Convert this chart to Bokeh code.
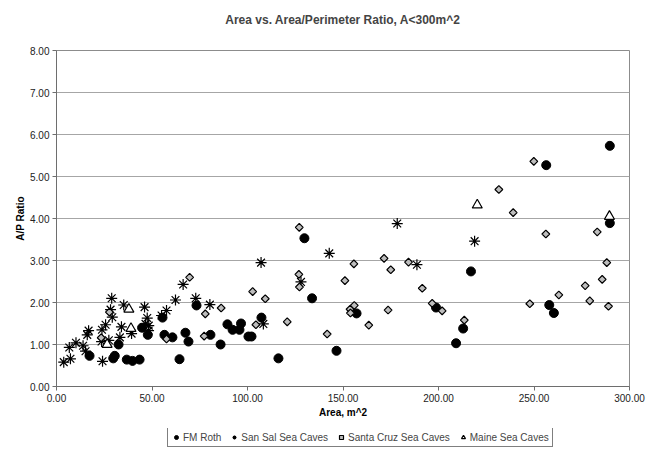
import math
from bokeh.plotting import figure
from bokeh.layouts import column
from bokeh.models import (Range1d, NumeralTickFormatter, FixedTicker,
                          Legend, LegendItem, Title)
from bokeh.embed import file_html
from bokeh.resources import INLINE

# ---- data ----
fm_area = [17.3, 32.5, 30.5, 29.7, 36.8, 39.8, 43.5, 44.8, 47.8, 55.5, 56.5, 60.7,
           67.5, 69.1, 64.4, 73.3, 89.5, 92.2, 95.8, 96.6, 80.6, 85.9, 100.5, 102.1,
           107.3, 116.2, 133.8, 129.8, 146.6, 157.1, 198.7, 217.0, 212.9, 209.2,
           289.7, 256.4, 289.7, 258.0, 260.4]
fm_ratio = [0.73, 1.00, 0.73, 0.67, 0.64, 0.61, 0.64, 1.40, 1.23, 1.64, 1.23, 1.17,
            1.28, 1.07, 0.65, 1.93, 1.48, 1.35, 1.35, 1.50, 1.23, 1.00, 1.19, 1.19,
            1.64, 0.67, 2.10, 3.53, 0.85, 1.74, 1.88, 2.74, 1.38, 1.03,
            5.73, 5.27, 3.89, 1.94, 1.75]

sansal_area = [3.8, 7.3, 6.7, 10.2, 13.9, 15.2, 16.8, 16.1, 24.1, 23.6, 25.7, 28.3,
               28.9, 29.2, 27.4, 33.2, 34.0, 35.2, 39.3, 46.1, 47.5, 48.3, 46.6, 48.2,
               55.0, 57.6, 62.3, 66.3, 72.9, 80.3, 107.1, 108.3, 128.0, 142.8, 178.4,
               188.7, 218.9, 23.8]
sansal_ratio = [0.58, 0.66, 0.93, 1.04, 0.97, 0.84, 1.33, 1.23, 0.60, 1.07, 1.47, 1.83,
                2.10, 1.65, 1.10, 1.17, 1.42, 1.94, 1.26, 1.89, 1.63, 1.45, 1.49, 1.33,
                1.69, 1.81, 2.06, 2.43, 2.10, 1.95, 2.95, 1.49, 2.49, 3.17, 3.88,
                2.90, 3.46, 1.35]

cruz_area = [27.7, 23.4, 57.6, 69.7, 77.9, 86.2, 77.3, 102.7, 109.3, 104.4, 120.8,
             127.1, 126.9, 127.2, 141.7, 151.0, 155.7, 171.5, 184.3, 175.0, 191.5,
             155.9, 153.7, 153.9, 173.6, 163.5, 196.7, 201.9, 213.5, 249.9, 231.6,
             239.1, 256.2, 283.1, 288.1, 285.7, 276.8, 263.0, 247.8, 279.2, 289.0]
cruz_ratio = [1.77, 1.16, 1.13, 2.60, 1.73, 1.87, 1.20, 2.26, 2.09, 1.47, 1.54,
              3.79, 2.67, 2.37, 1.25, 2.52, 2.92, 3.05, 2.96, 2.78, 2.34,
              1.93, 1.84, 1.75, 1.82, 1.46, 1.98, 1.80, 1.58, 5.36, 4.69,
              4.14, 3.63, 3.68, 2.95, 2.55, 2.40, 2.18, 1.97, 2.04, 1.91]

maine_area = [37.9, 39.0, 26.5, 220.3, 289.5]
maine_ratio = [1.84, 1.38, 1.00, 4.32, 4.05]

x_ticks = [0, 50, 100, 150, 200, 250, 300]
y_ticks = [0, 1, 2, 3, 4, 5, 6, 7, 8]

title_text = "Area vs. Area/Perimeter Ratio, A<300m^2"
x_label = "Area, m^2"
y_label = "A/P Ratio"
series_names = ["FM Roth", "San Sal Sea Caves", "Santa Cruz Sea Caves", "Maine Sea Caves"]

FONT = "Liberation Sans"

p = figure(frame_width=573, frame_height=336, output_backend="svg",
           toolbar_location=None, title=None,
           x_range=Range1d(0, 300), y_range=Range1d(0, 8),
           min_border_left=56, min_border_right=27, min_border_top=50,
           min_border_bottom=42)

# spacer title nearest the frame, then the real title above it
p.add_layout(Title(text=" ", text_font=FONT, text_font_size="12px", standoff=0), "above")
p.add_layout(Title(text=title_text, align="center", text_font=FONT,
                   text_font_size="12px", text_font_style="bold", standoff=16), "above")

p.background_fill_color = "white"
p.border_fill_color = "white"
p.outline_line_color = "#8c8c8c"
p.outline_line_width = 1

p.xgrid.visible = False
p.ygrid.grid_line_color = "#a6a6a6"
p.ygrid.grid_line_width = 1
p.ygrid.ticker = FixedTicker(ticks=y_ticks)

for ax in (p.xaxis[0], p.yaxis[0]):
    ax.axis_line_color = "#6e6e6e"
    ax.major_tick_line_color = "#6e6e6e"
    ax.major_tick_in = 0
    ax.major_tick_out = 4
    ax.minor_tick_line_color = None
    ax.major_label_text_font = FONT
    ax.major_label_text_font_size = "10px"
    ax.major_label_text_color = "#222222"
    ax.formatter = NumeralTickFormatter(format="0.00")
    ax.axis_label_text_font = FONT
    ax.axis_label_text_font_size = "10px"
    ax.axis_label_text_font_style = "bold"
    ax.axis_label_text_color = "black"
p.xaxis.ticker = FixedTicker(ticks=x_ticks)
p.yaxis.ticker = FixedTicker(ticks=y_ticks)
p.xaxis.major_label_standoff = 3
p.yaxis.major_label_standoff = 3
p.xaxis.axis_label = x_label
p.yaxis.axis_label = y_label
p.xaxis.axis_label_standoff = 2
p.yaxis.axis_label_standoff = 1

styles = [
    dict(marker="circle", size=9, fill_color="black", line_color="black"),
    dict(marker="asterisk", size=11, line_color="black", line_width=1.2),
    dict(marker="square", angle=math.pi / 4, size=5.5, fill_color="#bdbdbd",
         line_color="black", line_width=1.2),
    dict(marker="triangle", size=10, fill_color="white", line_color="black",
         line_width=1.2),
]
series = [(fm_area, fm_ratio), (sansal_area, sansal_ratio),
          (cruz_area, cruz_ratio), (maine_area, maine_ratio)]
for (xs, ys), st in zip(series, styles):
    p.scatter(xs, ys, **st)

# ---- legend strip below the chart (its own data lies outside its 0..1 view) ----
lf = figure(width=656, height=25, output_backend="svg",
            toolbar_location=None, title=None,
            x_range=Range1d(0, 1), y_range=Range1d(0, 1),
            x_axis_location=None, y_axis_location=None,
            min_border_left=0, min_border_right=0, min_border_top=0,
            min_border_bottom=0)
lf.xgrid.visible = False
lf.ygrid.visible = False
lf.outline_line_color = None
lf.background_fill_color = "white"
lf.border_fill_color = "white"

leg_renderers = [lf.scatter(xs, ys, **st) for (xs, ys), st in zip(series, styles)]
legend = Legend(items=[LegendItem(label=n, renderers=[r])
                       for n, r in zip(series_names, leg_renderers)],
                orientation="horizontal", location=(111, 6))
legend.border_line_color = "black"
legend.border_line_width = 1
legend.background_fill_color = "white"
legend.label_text_font = FONT
legend.label_text_font_size = "10px"
legend.glyph_width = 10
legend.glyph_height = 10
legend.label_standoff = 2
legend.spacing = 8
legend.padding = 3
legend.margin = 0
legend.label_height = 12
lf.add_layout(legend, "center")

layout = column(p, lf, spacing=0)
open("out.html", "w").write(file_html(layout, INLINE))
